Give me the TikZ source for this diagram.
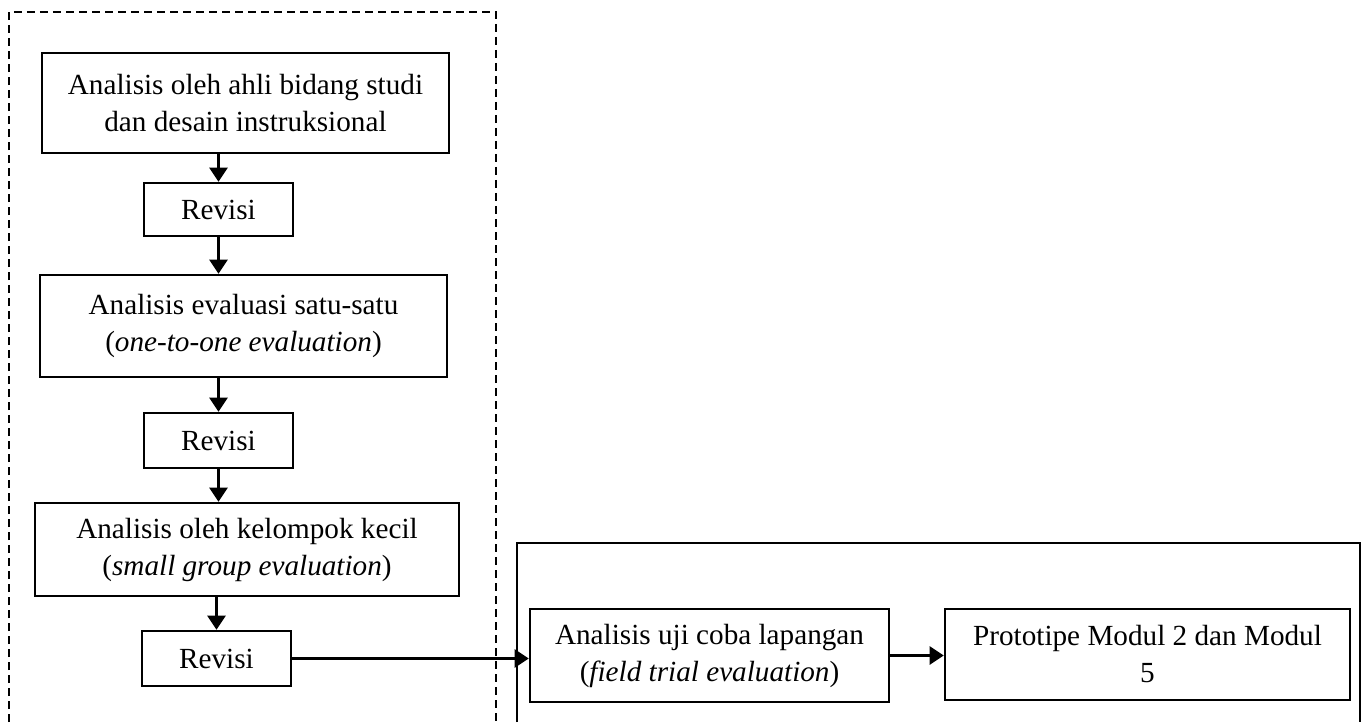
\documentclass[tikz,border=0pt]{standalone}
\usepackage{fontspec}
\setmainfont{Liberation Serif}
\usetikzlibrary{arrows.meta}
\begin{document}
\begin{tikzpicture}[x=0.5pt,y=-0.5pt,line width=1.3pt,
     font=\fontsize{14.6}{18.5}\selectfont,
     box/.style = {draw,align=center,inner sep=0pt},
     arr/.style = {-{Triangle[length=7pt,width=9pt]}}]
     \useasboundingbox (0,0) rectangle (1368,722);
     % frames
     \draw[line width=1pt,dash pattern=on 4pt off 2.5pt] (9,722) -- (9,12) -- (496,12) -- (496,722);
     \draw (517,722) -- (517,543) -- (1360,543) -- (1360,722);
     % steps
     \node[box,minimum width=203.5pt,minimum height=50pt] (a1) at (245.5,103)
          {Analisis oleh ahli bidang studi\\dan desain instruksional};
     \node[box,minimum width=74.5pt,minimum height=26.5pt] (r1) at (218.5,209.5) {Revisi};
     \node[box,minimum width=203.5pt,minimum height=51pt] (a2) at (243.5,326)
          {Analisis evaluasi satu-satu\\(\textit{one-to-one evaluation})};
     \node[box,minimum width=74.5pt,minimum height=27.5pt] (r2) at (218.5,440.5) {Revisi};
     \node[box,minimum width=212pt,minimum height=46.5pt] (a3) at (247,549.5)
          {Analisis oleh kelompok kecil\\(\textit{small group evaluation})};
     \node[box,minimum width=74.5pt,minimum height=27.5pt] (r3) at (216.5,658.5) {Revisi};
     \node[box,minimum width=179.5pt,minimum height=46.5pt] (a4) at (709.5,655.5)
          {Analisis uji coba lapangan\\(\textit{field trial evaluation})};
     \node[box,minimum width=202.5pt,minimum height=45.5pt] (p5) at (1147.5,654.5)
          {Prototipe Modul 2 dan Modul\\5};
     % arrows
     \draw[arr] (a1.south -| r1.north) -- (r1.north);
     \draw[arr] (r1.south) -- (r1.south |- a2.north);
     \draw[arr] (a2.south -| r2.north) -- (r2.north);
     \draw[arr] (r2.south) -- (r2.south |- a3.north);
     \draw[arr] (a3.south -| r3.north) -- (r3.north);
     \draw[arr] (r3.east) -- (r3.east -| a4.west);
     \draw[arr] (a4.east) -- (a4.east -| p5.west);
\end{tikzpicture}
\end{document}
